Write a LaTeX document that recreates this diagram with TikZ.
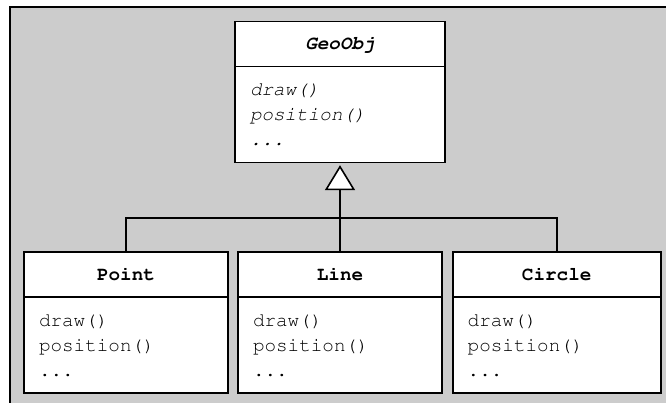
\documentclass[tikz,border=0pt]{standalone}
\usepackage[T1]{fontenc}
\usepackage{courier}
\usetikzlibrary{positioning,arrows.meta}

\newcommand{\umlfont}{\ttfamily\fontsize{19.3}{25}\selectfont}
\definecolor{panelgray}{RGB}{204,204,204}

\tikzset{
  classhead/.style={draw, fill=white, line width=1.6pt, outer sep=0pt,
    minimum width=204pt, minimum height=45pt, font=\umlfont\bfseries},
  classbody/.style={draw, fill=white, line width=1.6pt, outer sep=0pt,
    text width=174pt, inner xsep=15pt, minimum height=96pt,
    align=left, font=\umlfont},
  inherit/.style={line width=1.6pt},
}

\begin{document}
\begin{tikzpicture}[x=1pt, y=-1pt]
  \useasboundingbox (0, 0) rectangle (666, 403);
  \clip (0, 0) rectangle (666, 403);

  \fill[panelgray] (9.5, 7.5) rectangle (680, 420);
  \draw[line width=2pt] (9.5, 420) -- (9.5, 7.5) -- (680, 7.5);

  \node[classhead, minimum width=210pt] (geohead) at (340, 44.2) {\textsl{GeoObj}};
  \node[classbody, text width=180pt, below=0pt of geohead] (geobody)
    {\textsl{draw()}\\ \textsl{position()}\\ \textsl{...}};

  \node[classhead] (pointhead) at (126, 274.5) {Point};
  \node[classbody, below=0pt of pointhead] (pointbody) {draw()\\ position()\\ ...};

  \node[classhead] (linehead) at (340, 274.5) {Line};
  \node[classbody, below=0pt of linehead] (linebody) {draw()\\ position()\\ ...};

  \node[classhead, minimum width=208pt] (circlehead) at (556.7, 274.5) {Circle};
  \node[classbody, text width=178pt, below=0pt of circlehead] (circlebody)
    {draw()\\ position()\\ ...};

  \coordinate (fork) at (340, 218);
  \draw[inherit] (pointhead.north) |- (fork);
  \draw[inherit] (circlehead.north) |- (fork);
  \draw[inherit, -{Triangle[open, fill=white, length=25pt, width=30pt]},
    shorten >=2.5pt] (linehead.north) -- (geobody.south);

\end{tikzpicture}
\end{document}
